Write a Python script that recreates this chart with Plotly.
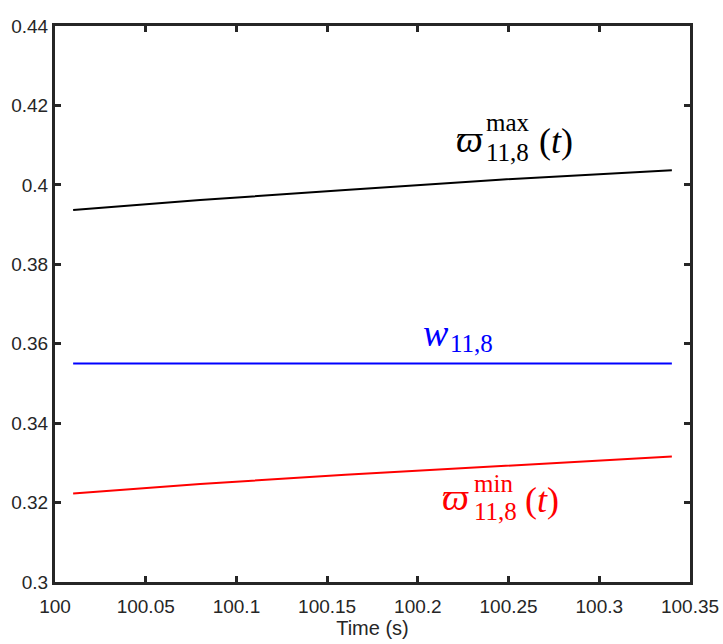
import plotly.graph_objects as go

# values
t = [100.01, 100.08, 100.16, 100.245, 100.34]
w_max = [0.3937, 0.3962, 0.3987, 0.4013, 0.4037]
w_nom = [0.355, 0.355, 0.355, 0.355, 0.355]
w_min = [0.3223, 0.3247, 0.3270, 0.3292, 0.3316]

x_ticks = [100, 100.05, 100.1, 100.15, 100.2, 100.25, 100.3, 100.35]
x_tick_text = ['100', '100.05', '100.1', '100.15', '100.2', '100.25', '100.3', '100.35']
y_ticks = [0.3, 0.32, 0.34, 0.36, 0.38, 0.4, 0.42, 0.44]
y_tick_text = ['0.3', '0.32', '0.34', '0.36', '0.38', '0.4', '0.42', '0.44']

W, H = 723, 644
L, R, T, B = 55, 33, 26, 62
SERIF = 'Liberation Serif, DejaVu Serif, serif'
SANS = 'Liberation Sans, Arial, sans-serif'
AX = '#262626'

fig = go.Figure()
fig.add_trace(go.Scatter(x=t, y=w_max, mode='lines', line=dict(color='black', width=2)))
fig.add_trace(go.Scatter(x=t, y=w_nom, mode='lines', line=dict(color='#0000ff', width=2)))
fig.add_trace(go.Scatter(x=t, y=w_min, mode='lines', line=dict(color='#ff0000', width=2)))


def px2paper(px, py):
    # window pixels (as measured on the reference) -> paper coords
    return (px - L) / (W - L - R), (H - B - py) / (H - T - B)


def label(text, px, py, size, color):
    xp, yp = px2paper(px, py)
    fig.add_annotation(x=xp, y=yp, xref='paper', yref='paper', text=text,
                       showarrow=False, xanchor='left', yanchor='middle',
                       font=dict(family=SERIF, size=size, color=color))


# black label
label('<i>ϖ</i>', 454, 139, 38, 'black')
label('max', 484, 122, 25, 'black')
label('11,8', 484, 152, 25, 'black')
label('(<i>t</i>)', 537, 141, 36, 'black')
# blue label
label('<i>w</i>', 421, 333, 38, '#0000ff')
label('11,8', 448, 343, 25, '#0000ff')
# red label
label('<i>ϖ</i>', 440, 497, 38, '#ff0000')
label('min', 472, 483, 25, '#ff0000')
label('11,8', 472, 511, 25, '#ff0000')
label('(<i>t</i>)', 523, 500, 36, '#ff0000')

axis_style = dict(showline=True, linewidth=3, linecolor=AX, mirror='allticks',
                  ticks='inside', ticklen=6, tickwidth=3, tickcolor=AX,
                  showgrid=False, zeroline=False, automargin=False,
                  tickfont=dict(family=SANS, size=19, color=AX))

fig.update_xaxes(range=[100, 100.35], tickvals=x_ticks, ticktext=x_tick_text,
                 ticklabelstandoff=5,
                 title=dict(text='Time (s)', font=dict(family=SANS, size=20, color=AX), standoff=6),
                 **axis_style)
fig.update_yaxes(range=[0.3, 0.44], tickvals=y_ticks, ticktext=y_tick_text, **axis_style)

fig.update_layout(width=W, height=H, margin=dict(l=L, r=R, t=T, b=B, autoexpand=False),
                  plot_bgcolor='white', paper_bgcolor='white', showlegend=False)

# drop the default body margin so the figure fills the window exactly
fig.write_html('out.html', config={'displayModeBar': False},
               post_script="document.body.style.margin='0px';")
